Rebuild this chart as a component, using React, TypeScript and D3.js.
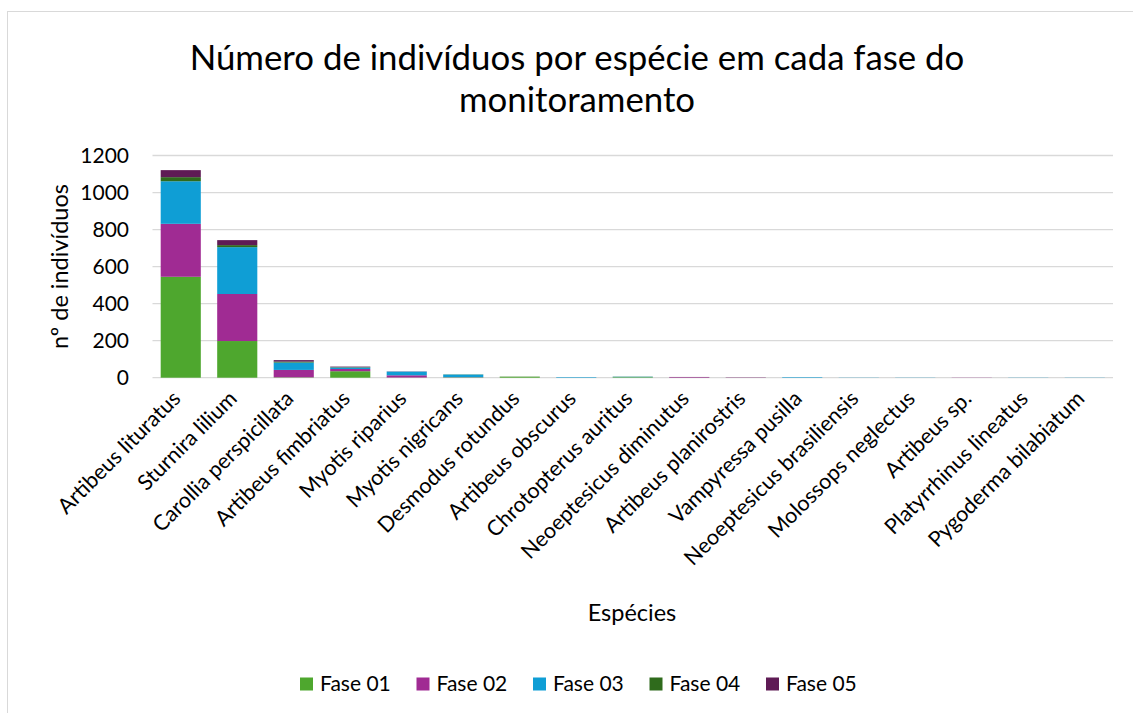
import { useMemo } from "react"
import * as d3 from "d3"

const especies = [
  "Artibeus lituratus",
  "Sturnira lilium",
  "Carollia perspicillata",
  "Artibeus fimbriatus",
  "Myotis riparius",
  "Myotis nigricans",
  "Desmodus rotundus",
  "Artibeus obscurus",
  "Chrotopterus auritus",
  "Neoeptesicus diminutus",
  "Artibeus planirostris",
  "Vampyressa pusilla",
  "Neoeptesicus brasiliensis",
  "Molossops neglectus",
  "Artibeus sp.",
  "Platyrrhinus lineatus",
  "Pygoderma bilabiatum",
]

const fases = ["Fase 01", "Fase 02", "Fase 03", "Fase 04", "Fase 05"]

// valores, por espécie
const fase01 = [545, 198, 2, 35, 1, 2, 5, 0, 3, 0, 0, 0, 0, 0, 0, 0, 0]
const fase02 = [286, 254, 40, 12, 12, 1, 0, 0, 0, 3, 1, 0, 0, 0, 1, 0, 0]
const fase03 = [230, 253, 40, 8, 20, 14, 0, 3, 2, 0, 0, 3, 1, 1, 0, 1, 1]
const fase04 = [22, 11, 5, 2, 0, 1, 1, 0, 1, 0, 0, 0, 0, 0, 0, 0, 0]
const fase05 = [38, 27, 8, 3, 1, 0, 0, 0, 0, 1, 1, 0, 0, 0, 0, 0, 0]

const yTicks = [0, 200, 400, 600, 800, 1000, 1200]

const cores = ["#4ea72e", "#a02b93", "#0f9ed5", "#2f6b1c", "#5f1b55"]

const W = 1133
const H = 713
const left = 152.5
const right = 1113
const top = 155.5
const bottom = 377.7
const font = "Lato, 'Open Sans', sans-serif"

const App = () => {
  const x = useMemo(
    () => d3.scaleBand().domain(especies).range([left, right]).paddingInner(0.29).paddingOuter(0.145),
    []
  )
  const y = useMemo(() => d3.scaleLinear().domain([0, 1200]).range([bottom, top]), [])

  const series = useMemo(() => {
    const rows = especies.map((nome, i) => ({
      nome,
      "Fase 01": fase01[i],
      "Fase 02": fase02[i],
      "Fase 03": fase03[i],
      "Fase 04": fase04[i],
      "Fase 05": fase05[i],
    }))
    return d3.stack<any>().keys(fases)(rows)
  }, [])

  const legendX = (i: number) => 300 + i * 116.5

  return (
    <svg
      width={W}
      height={H}
      style={{ position: "absolute", left: 0, top: 0, background: "#fff" }}
      fontFamily={font}
    >
      <rect x={7.5} y={11.5} width={W + 10} height={H + 10} fill="#fff" stroke="#d9d9d9" />

      <text x={577} y={70} textAnchor="middle" fontSize={34.8} fill="#000">
        Número de indivíduos por espécie em cada fase do
      </text>
      <text x={577} y={112} textAnchor="middle" fontSize={34.8} fill="#000">
        monitoramento
      </text>

      {yTicks.map(t => (
        <g key={t}>
          <line x1={left} x2={right} y1={y(t)} y2={y(t)} stroke="#d9d9d9" strokeWidth={1.3} />
          <text x={129} y={y(t) + 7} textAnchor="end" fontSize={21} fill="#000">
            {t}
          </text>
        </g>
      ))}

      <text
        transform={`translate(68, ${(top + bottom) / 2}) rotate(-90)`}
        textAnchor="middle"
        fontSize={23.5}
        fill="#000"
      >
        nº de indivíduos
      </text>

      {series.map((s, si) => (
        <g key={s.key} fill={cores[si]}>
          {s.map((d, i) => {
            const h = y(d[0]) - y(d[1])
            if (h <= 0) return null
            return (
              <rect
                key={i}
                x={x(especies[i])}
                y={y(d[1])}
                width={x.bandwidth()}
                height={h}
              />
            )
          })}
        </g>
      ))}

      {especies.map(e => {
        const cx = (x(e) ?? 0) + x.bandwidth() / 2 + 1
        return (
          <text
            key={e}
            transform={`translate(${cx}, 400) rotate(-45)`}
            textAnchor="end"
            fontSize={21.5}
            fill="#000"
          >
            {e}
          </text>
        )
      })}

      <text x={632} y={621} textAnchor="middle" fontSize={23.5} fill="#000">
        Espécies
      </text>

      {fases.map((f, i) => (
        <g key={f}>
          <rect x={legendX(i)} y={677.5} width={13} height={13} fill={cores[i]} />
          <text x={legendX(i) + 20} y={691} fontSize={21} fill="#000">
            {f}
          </text>
        </g>
      ))}
    </svg>
  )
}

export default App
